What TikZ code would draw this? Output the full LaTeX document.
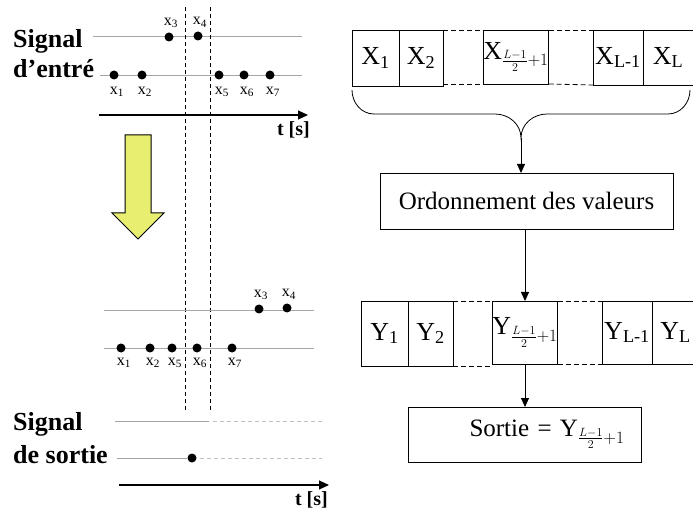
\documentclass[tikz,border=0pt]{standalone}
\usepackage{amsmath}
\usepackage{fontspec}
\setmainfont{Liberation Serif}
\usepackage{tikz}
\usetikzlibrary{arrows.meta, positioning}

\definecolor{arrowyellow}{RGB}{232,238,112}
\newcommand{\midsub}{\genfrac{}{}{}{2}{L\mathord{-}1}{2}\mathord{+}1}

\begin{document}
\begin{tikzpicture}[
  x=1pt, y=-1pt,
  cell/.style={draw, line width=0.8pt, inner sep=0pt, outer sep=0pt, font=\fontsize{26}{26}\selectfont},
  procbox/.style={draw, line width=0.8pt, inner sep=0pt, outer sep=0pt, font=\fontsize{25}{25}\selectfont},
  dot/.style={circle, fill, inner sep=0pt, minimum size=9pt},
  xlab/.style={font=\fontsize{16}{16}\selectfont, inner sep=1pt},
  sig/.style={black!35, line width=0.8pt},
  ghost/.style={black!25, line width=0.8pt, dash pattern=on 4pt off 3pt},
  guide/.style={dash pattern=on 4pt off 3pt, line width=0.8pt},
  link/.style={dash pattern=on 5pt off 3pt, line width=0.8pt},
  axis/.style={-{Triangle[length=10pt, width=9pt]}, line width=1.1pt},
  thinarrow/.style={-{Triangle[length=9pt, width=8pt]}, line width=0.8pt},
  title/.style={font=\fontsize{26}{26}\selectfont\bfseries, inner sep=0pt, anchor=base west},
  tlab/.style={font=\fontsize{20}{20}\selectfont\bfseries, inner sep=0pt, anchor=base east},
]
\clip (0,0) rectangle (693,510);

% Signal d'entree
\node[title] (in1) at (13,48) {Signal};
\node[title] (in2) at (13,78) {d’entré};
\draw[sig] (93,36) -- (302,36);
\draw[sig] (100,75) -- (302,75);

\node[dot, label={[xlab, xshift=3pt, label distance=6pt]below:x\textsubscript{1}}] (a1) at (114,75) {};
\node[dot, label={[xlab, xshift=3pt, label distance=6pt]below:x\textsubscript{2}}] (a2) at (142,75) {};
\node[dot, label={[xlab, xshift=2pt, label distance=3pt]above:x\textsubscript{3}}] (a3) at (169,37) {};
\node[dot, label={[xlab, xshift=2pt, label distance=3pt]above:x\textsubscript{4}}] (a4) at (198,36) {};
\node[dot, label={[xlab, xshift=3pt, label distance=6pt]below:x\textsubscript{5}}] (a5) at (219,75) {};
\node[dot, label={[xlab, xshift=3pt, label distance=6pt]below:x\textsubscript{6}}] (a6) at (244,75) {};
\node[dot, label={[xlab, xshift=3pt, label distance=6pt]below:x\textsubscript{7}}] (a7) at (270,75) {};

\coordinate (ax1a) at (99,115);
\coordinate (ax1b) at (308,115);
\draw[axis] (ax1a) -- (ax1b);
\node[tlab] (t1) at (310,136) {t [s]};

% fenetre
\draw[guide] (185,7) -- (185,410);
\draw[guide] (210,7) -- (210,410);

% fleche de tri
\draw[line width=1pt, fill=arrowyellow]
  (125,135) -- (151,135) -- (151,213) -- (164,213) -- (138,239)
  -- (112,213) -- (125,213) -- cycle;

% valeurs ordonnees
\draw[sig] (104,310) -- (314,310);
\draw[sig] (104,348) -- (314,348);

\node[dot, label={[xlab, xshift=3pt, label distance=4pt]below:x\textsubscript{1}}] (b1) at (121,348) {};
\node[dot, label={[xlab, xshift=3pt, label distance=4pt]below:x\textsubscript{2}}] (b2) at (150,348) {};
\node[dot, label={[xlab, xshift=3pt, label distance=4pt]below:x\textsubscript{5}}] (b5) at (172,348) {};
\node[dot, label={[xlab, xshift=3pt, label distance=4pt]below:x\textsubscript{6}}] (b6) at (197,348) {};
\node[dot, label={[xlab, xshift=3pt, label distance=4pt]below:x\textsubscript{7}}] (b7) at (232,348) {};
\node[dot, label={[xlab, xshift=2pt, label distance=3pt]above:x\textsubscript{3}}] (b3) at (259,309) {};
\node[dot, label={[xlab, xshift=2pt, label distance=3pt]above:x\textsubscript{4}}] (b4) at (287,308) {};

% Signal de sortie
\node[title] (out1) at (13,430) {Signal};
\node[title] (out2) at (13,463) {de sortie};
\draw[sig] (115,421) -- (209,421);
\draw[ghost] (213,421) -- (325,421);
\node[dot] (med) at (192,458) {};
\draw[sig] (117,458) -- (med);
\draw[ghost] (200,458) -- (322,458);

\coordinate (ax2a) at (119,485);
\coordinate (ax2b) at (329,485);
\draw[axis] (ax2a) -- (ax2b);
\node[tlab] (t2) at (328,505) {t [s]};

% fenetre d'entree
\node[cell, minimum width=47pt, minimum height=56pt] (X1) at (375.5,58) {X\textsubscript{1}};
\node[cell, minimum width=44pt, minimum height=56pt, right=0pt of X1] (X2) {X\textsubscript{2}};
\node[cell, minimum width=52pt, minimum height=54pt] (Xm) at (516,57) {X$_{\midsub}$};
\node[cell, minimum width=50pt, minimum height=55pt] (XL1) at (618,57.5) {X\textsubscript{L-1}};
\node[cell, minimum width=55pt, minimum height=55pt, right=0pt of XL1] (XL) {\hspace*{-5pt}X\textsubscript{L}};

\draw[link] (X2.north east) -- (X2.north east -| Xm.west);
\draw[link] (Xm.north east) -- (Xm.north east -| XL1.west);
\draw[link] (Xm.south west -| X2.east) -- (Xm.south west);
\draw[link] (Xm.south east) -- (XL1.south west);

% accolade
\coordinate (brace) at (521,138);
\draw[line width=0.8pt] (352,90) to[out=-90, in=180] (374,114) -- (495,114)
  to[out=0, in=90] (brace) to[out=90, in=180] (547,114) -- (668,114)
  to[out=0, in=-90] (690,90);

\node[procbox, minimum width=293pt, minimum height=56pt] (ordo) at (526.5,201) {Ordonnement des valeurs};

% fenetre triee
\node[cell, minimum width=47pt, minimum height=65pt] (Y1) at (384.5,333.5) {Y\textsubscript{1}};
\node[cell, minimum width=45pt, minimum height=65pt, right=0pt of Y1] (Y2) {Y\textsubscript{2}};
\node[cell, minimum width=52pt, minimum height=63pt] (Ym) at (525,332.5) {Y$_{\midsub}$};
\node[cell, minimum width=50pt, minimum height=63pt] (YL1) at (627,332.5) {Y\textsubscript{L-1}};
\node[cell, minimum width=55pt, minimum height=63pt, right=0pt of YL1] (YL) {\hspace*{-8pt}Y\textsubscript{L}};

\draw[link] (Y2.north east) -- (Y2.north east -| Ym.west);
\draw[link] (Ym.north east) -- (YL1.north west);
\draw[link] (Y2.south east) -- (Y2.south east -| Ym.west);
\draw[link] (Ym.south east) -- (YL1.south west);

\node[procbox, minimum width=233pt, minimum height=55pt, text width=200pt, align=right] (sortie) at (524.5,434.5) {Sortie = Y$_{\midsub}$};

% Arrows
\draw[thinarrow] (brace) -- (brace |- ordo.north);
\draw[thinarrow] (ordo.south -| Ym.north) -- (Ym.north);
\draw[thinarrow] (Ym.south) -- (Ym.south |- sortie.north);

\end{tikzpicture}
\end{document}
